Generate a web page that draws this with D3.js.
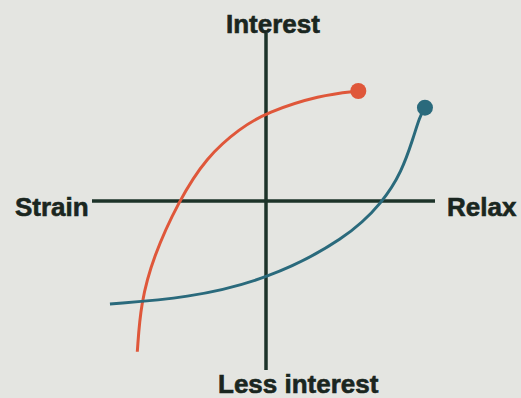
<!DOCTYPE html>
<html>
<head>
<meta charset="utf-8">
<script src="https://cdn.jsdelivr.net/npm/d3@7"></script>
<style>
  html, body { margin: 0; padding: 0; background: #e4e5e1; }
  svg { display: block; }
</style>
</head>
<body>
<script>
// Axis end labels
const axisLabels = ["Interest", "Less interest", "Strain", "Relax"];

// Curve A (orange): rises steeply from low interest/strain toward interest/relax
const curveAx = [-0.757, -0.737, -0.663, -0.516, -0.349, -0.153, 0.004, 0.318, 0.543];
const curveAy = [-0.892, -0.605, -0.330, -0.004, 0.262, 0.430, 0.525, 0.627, 0.651];

// Curve B (blue): flat along low interest, then climbing on the relax side
const curveBx = [-0.918, -0.466, 0.004, 0.475, 0.690, 0.798, 0.866, 0.903, 0.935];
const curveBy = [-0.609, -0.575, -0.468, -0.222, -0.004, 0.173, 0.371, 0.497, 0.552];

const W = 521, H = 398;
const svg = d3.select("body").append("svg").attr("width", W).attr("height", H);

const x = d3.scaleLinear().domain([-1, 1]).range([96, 436]);
const y = d3.scaleLinear().domain([-1, 1]).range([370, 32]);

const axisColor = "#1d3329";
const textColor = "#1a2620";

// Horizontal axis (Strain – Relax)
svg.append("line")
  .attr("x1", x(-1) - 4).attr("x2", x(1) - 1)
  .attr("y1", y(0)).attr("y2", y(0))
  .attr("stroke", axisColor).attr("stroke-width", 3.5);

// Vertical axis (Interest – Less interest)
svg.append("line")
  .attr("x1", x(0)).attr("x2", x(0))
  .attr("y1", y(1) + 1).attr("y2", y(-1))
  .attr("stroke", axisColor).attr("stroke-width", 3.5);

const line = d3.line()
  .x(d => x(d[0])).y(d => y(d[1]))
  .curve(d3.curveBasis);

const series = [
  { xs: curveAx, ys: curveAy, color: "#df573a" },
  { xs: curveBx, ys: curveBy, color: "#2a6a7c" }
];

series.forEach(s => {
  const pts = s.xs.map((v, i) => [v, s.ys[i]]);
  svg.append("path")
    .attr("d", line(pts))
    .attr("fill", "none")
    .attr("stroke", s.color)
    .attr("stroke-width", 3)
    .attr("stroke-linecap", "butt");
  const last = pts[pts.length - 1];
  svg.append("circle")
    .attr("cx", x(last[0])).attr("cy", y(last[1]))
    .attr("r", 8)
    .attr("fill", s.color);
});

// Labels
const font = "'Liberation Sans', Arial, sans-serif";
const labelPos = [
  { t: axisLabels[0], px: 226, py: 33 },
  { t: axisLabels[1], px: 218, py: 393 },
  { t: axisLabels[2], px: 15, py: 216 },
  { t: axisLabels[3], px: 447, py: 216 }
];
labelPos.forEach(l => {
  svg.append("text")
    .attr("x", l.px).attr("y", l.py)
    .attr("font-family", font)
    .attr("font-weight", "bold")
    .attr("font-size", 26)
    .attr("fill", textColor)
    .attr("stroke", textColor)
    .attr("stroke-width", 0.6)
    .text(l.t);
});
</script>
</body>
</html>
